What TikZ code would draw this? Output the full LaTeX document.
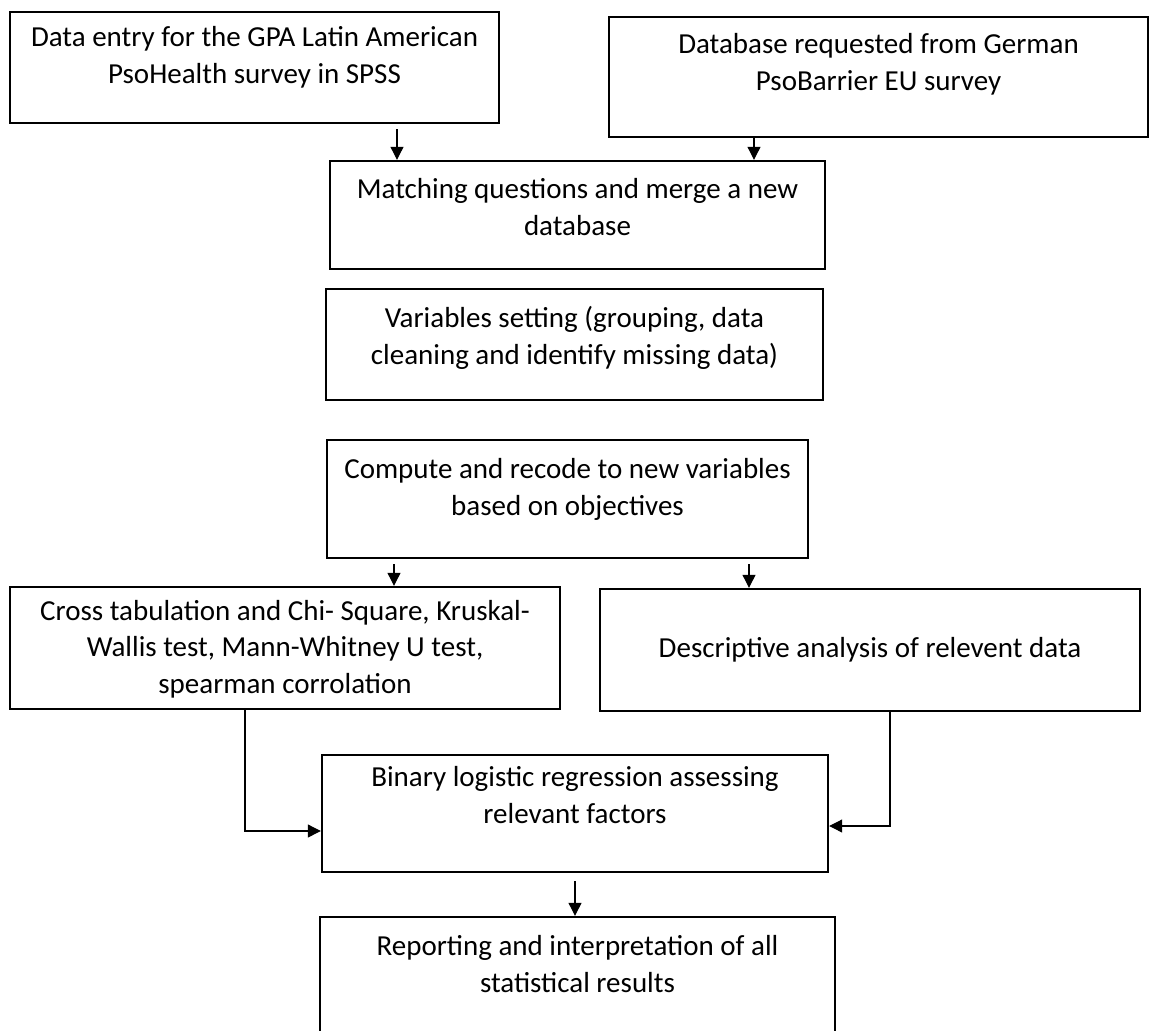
\documentclass[tikz,border=0pt]{standalone}
\usepackage{fontspec}
\setmainfont{Carlito}
\usetikzlibrary{arrows.meta,positioning}
\tikzset{
  >={Triangle[length=13pt,width=13pt]},
  box/.style={draw,line width=2.4pt,inner sep=0pt},
  lab/.style={align=center,inner sep=0pt,font=\fontsize{29}{37.5}\selectfont},
  arr/.style={->,line width=1.1pt},
}
\begin{document}
\begin{tikzpicture}[x=1pt,y=-1pt]
\useasboundingbox (0,0) rectangle (1150,1030);
\clip (0,0) rectangle (1150,1030);
% boxes
\node[box,minimum width=489,minimum height=111] (entry) at (254.5,67.5) {};
\node[box,minimum width=539,minimum height=120] (source) at (878.5,77) {};
\node[box,minimum width=495,minimum height=108] (match) at (577.5,215) {};
\node[box,minimum width=497,minimum height=111] (vars) at (574.5,344.5) {};
\node[box,minimum width=481,minimum height=118] (compute) at (567.5,499) {};
\node[box,minimum width=550,minimum height=122] (cross) at (285,648) {};
\node[box,minimum width=540,minimum height=122] (descr) at (870,650) {};
\node[box,minimum width=506,minimum height=117] (binary) at (575,813.5) {};
\node[box,minimum width=515,minimum height=143] (report) at (577.5,988.5) {};
% texts
\node[lab,below=15pt of entry.north] (entry-t) {Data entry for the GPA Latin American\\PsoHealth survey in SPSS};
\node[lab,below=17pt of source.north] (source-t) {Database requested from German\\PsoBarrier EU survey};
\node[lab,below=18pt of match.north] (match-t) {Matching questions and merge a new\\database};
\node[lab,below=18pt of vars.north] (vars-t) {Variables setting (grouping, data\\cleaning and identify missing data)};
\node[lab,below=19pt of compute.north] (compute-t) {Compute and recode to new variables\\based on objectives};
\node[lab,below=14pt of cross.north,font=\fontsize{29}{36.5}\selectfont] (cross-t) {Cross tabulation and Chi- Square, Kruskal-\\Wallis test, Mann-Whitney U test,\\spearman corrolation};
\node[lab] (descr-t) at (descr.center) {Descriptive analysis of relevent data};
\node[lab,below=12pt of binary.north] (binary-t) {Binary logistic regression assessing\\relevant factors};
\node[lab,below=19pt of report.north] (report-t) {Reporting and interpretation of all\\statistical results};
% connectors
\draw[arr] ([xshift=142.5pt,yshift=-5pt]entry.south) -- ([xshift=142.5pt]entry.south |- match.north);
\draw[arr] ([xshift=-124.5pt]source.south) -- ([xshift=-124.5pt]source.south |- match.north);
\draw[arr] ([xshift=-173.5pt,yshift=-5pt]compute.south) -- ([xshift=-173.5pt]compute.south |- cross.north);
\draw[arr] ([xshift=181.5pt,yshift=-5pt]compute.south) -- ([xshift=181.5pt]compute.south |- descr.north);
\draw[arr] ([xshift=-40pt]cross.south) |- ([yshift=-17.5pt]binary.west);
\draw[arr] ([xshift=20pt]descr.south) |- ([yshift=-12.5pt]binary.east);
\draw[arr] ([yshift=-8pt]binary.south) -- (binary.south |- report.north);
\end{tikzpicture}
\end{document}
